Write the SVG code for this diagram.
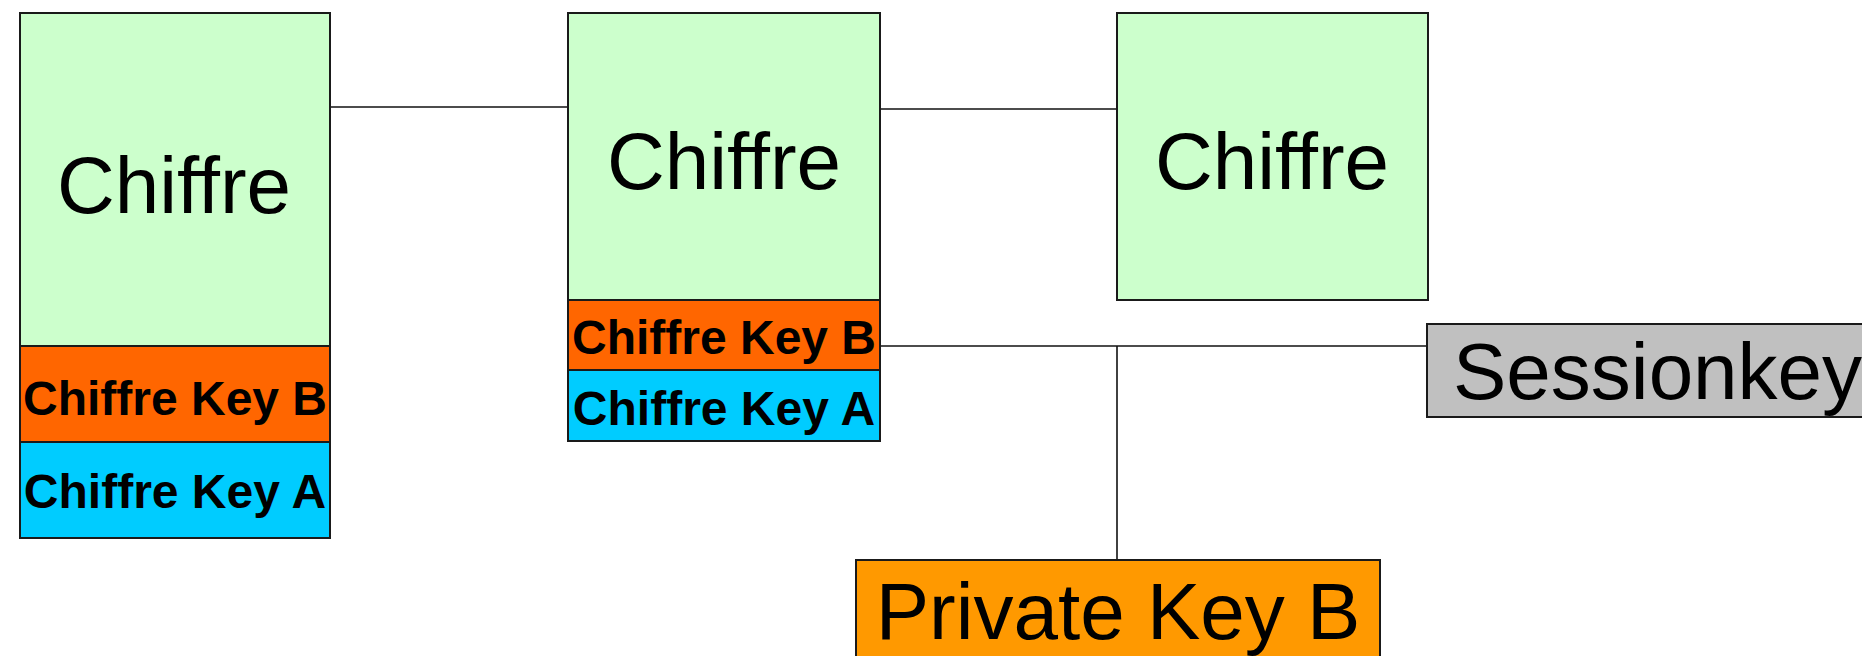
<svg xmlns="http://www.w3.org/2000/svg" width="1862" height="656" viewBox="0 0 1862 656">
  <style>
    .box { stroke: #1a1a1a; stroke-width: 2; }
    .cipher { fill: #CCFFCC; }
    .keyB { fill: #FF6600; }
    .keyA { fill: #00CCFF; }
    .session { fill: #C0C0C0; }
    .priv { fill: #FF9900; }
    .big { font-family: "Liberation Sans", Arial, sans-serif; font-size: 80px; fill: #000; }
    .small { font-family: "Liberation Sans", Arial, sans-serif; font-size: 48px; font-weight: bold; fill: #000; }
    .wire { stroke: #111; stroke-width: 1.6; fill: none; }
  </style>

  <!-- connectors -->
  <g id="connectors">
    <line class="wire" x1="330" y1="107" x2="568" y2="107"/>
    <line class="wire" x1="880" y1="109" x2="1117" y2="109"/>
    <line class="wire" x1="880" y1="346" x2="1427" y2="346"/>
    <line class="wire" x1="1117" y1="346" x2="1117" y2="560"/>
  </g>

  <!-- first cipher block with both keys -->
  <g id="cipher-1">
    <rect class="box cipher" x="20" y="13" width="310" height="333"/>
    <rect class="box keyB" x="20" y="346" width="310" height="96"/>
    <rect class="box keyA" x="20" y="442" width="310" height="96"/>
    <text class="big" x="174" y="213" text-anchor="middle">Chiffre</text>
    <text class="small" x="175" y="415" text-anchor="middle">Chiffre Key B</text>
    <text class="small" x="175" y="508" text-anchor="middle">Chiffre Key A</text>
  </g>

  <!-- second cipher block with both keys -->
  <g id="cipher-2">
    <rect class="box cipher" x="568" y="13" width="312" height="287"/>
    <rect class="box keyB" x="568" y="300" width="312" height="70"/>
    <rect class="box keyA" x="568" y="370" width="312" height="71"/>
    <text class="big" x="724" y="189" text-anchor="middle">Chiffre</text>
    <text class="small" x="724" y="354" text-anchor="middle">Chiffre Key B</text>
    <text class="small" x="724" y="425" text-anchor="middle">Chiffre Key A</text>
  </g>

  <!-- plain cipher block -->
  <g id="cipher-3">
    <rect class="box cipher" x="1117" y="13" width="311" height="287"/>
    <text class="big" x="1272" y="189" text-anchor="middle">Chiffre</text>
  </g>

  <!-- session key -->
  <g id="sessionkey">
    <rect class="box session" x="1427" y="324" width="460" height="93"/>
    <text class="big" x="1453" y="399">Sessionkey</text>
  </g>

  <!-- private key -->
  <g id="private-key-b">
    <rect class="box priv" x="856" y="560" width="524" height="120"/>
    <text class="big" x="1118" y="639" text-anchor="middle">Private Key B</text>
  </g>
</svg>
